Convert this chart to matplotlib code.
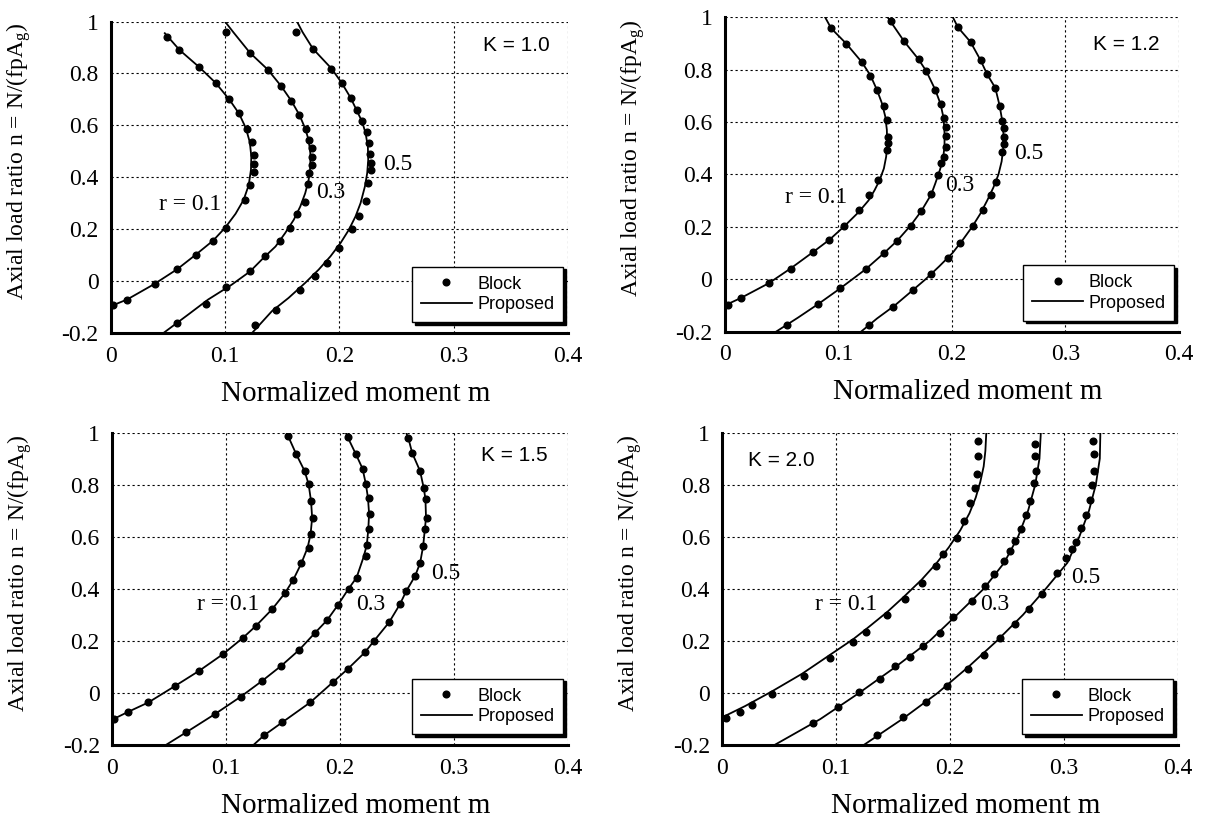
import matplotlib
matplotlib.use('Agg')
import matplotlib.pyplot as plt
import numpy as np

plt.rcParams['mathtext.fontset'] = 'custom'
plt.rcParams['mathtext.rm'] = 'Liberation Serif'
plt.rcParams['mathtext.it'] = 'Liberation Serif:italic'

# ---- K = 1.0 ----  (m, n) pairs
k10_block_r01 = [(0.049, 0.940), (0.0595, 0.892), (0.077, 0.825), (0.0915, 0.764), (0.1035, 0.701),
                 (0.112, 0.646), (0.119, 0.588), (0.123, 0.537), (0.125, 0.486), (0.125, 0.450),
                 (0.125, 0.422), (0.122, 0.371), (0.117, 0.313), (0.1006, 0.207), (0.0894, 0.157),
                 (0.074, 0.102), (0.058, 0.047), (0.038, -0.010), (0.014, -0.070), (0.0015, -0.093)]
k10_block_r03 = [(0.1006, 0.959), (0.1217, 0.879), (0.1372, 0.815), (0.149, 0.751), (0.1578, 0.695),
                 (0.165, 0.640), (0.1707, 0.588), (0.1736, 0.544), (0.176, 0.512), (0.176, 0.480),
                 (0.176, 0.448), (0.1736, 0.416), (0.1724, 0.374), (0.1695, 0.307), (0.163, 0.258),
                 (0.157, 0.207), (0.148, 0.154), (0.135, 0.098), (0.1217, 0.038), (0.1006, -0.022),
                 (0.0827, -0.086), (0.0578, -0.160)]
k10_block_r05 = [(0.162, 0.959), (0.1768, 0.895), (0.193, 0.819), (0.2018, 0.765), (0.2097, 0.707),
                 (0.215, 0.659), (0.220, 0.618), (0.2238, 0.576), (0.2258, 0.533), (0.2264, 0.490),
                 (0.2273, 0.454), (0.2273, 0.429), (0.2252, 0.377), (0.2229, 0.310), (0.217, 0.252),
                 (0.211, 0.201), (0.1994, 0.128), (0.189, 0.070), (0.179, 0.022), (0.1657, -0.032),
                 (0.1446, -0.109), (0.126, -0.170)]
k10_line_r01 = [(0.047, 0.955), (0.060, 0.890), (0.077, 0.825), (0.0915, 0.764), (0.1035, 0.700),
                (0.112, 0.646), (0.118, 0.590), (0.1215, 0.535), (0.1228, 0.480), (0.1225, 0.430),
                (0.1205, 0.370), (0.116, 0.313), (0.109, 0.260), (0.1000, 0.207), (0.0894, 0.157),
                (0.074, 0.102), (0.058, 0.047), (0.038, -0.010), (0.014, -0.070), (0.0, -0.095)]
k10_line_r03 = [(0.0997, 1.0), (0.107, 0.959), (0.1217, 0.879), (0.1372, 0.815), (0.149, 0.751),
                (0.1578, 0.695), (0.165, 0.640), (0.170, 0.588), (0.173, 0.544), (0.1745, 0.493),
                (0.1745, 0.441), (0.173, 0.390), (0.170, 0.339), (0.1657, 0.288), (0.160, 0.237),
                (0.1525, 0.186), (0.144, 0.134), (0.1334, 0.090), (0.1217, 0.038), (0.1056, -0.013),
                (0.085, -0.070), (0.0675, -0.128), (0.0455, -0.2)]
k10_line_r05 = [(0.1628, 1.0), (0.1677, 0.959), (0.1768, 0.895), (0.193, 0.819), (0.2018, 0.765),
                (0.2097, 0.707), (0.215, 0.659), (0.2199, 0.614), (0.2229, 0.570), (0.2249, 0.518),
                (0.2252, 0.467), (0.2243, 0.416), (0.2223, 0.365), (0.2185, 0.301), (0.2141, 0.250),
                (0.2082, 0.198), (0.2009, 0.147), (0.1921, 0.096), (0.1818, 0.045), (0.170, -0.006),
                (0.1554, -0.064), (0.1408, -0.115), (0.1232, -0.2)]

# ---- K = 1.2 ----
k12_block_r01 = [(0.0937, 0.958), (0.107, 0.900), (0.1207, 0.829), (0.128, 0.778), (0.134, 0.724),
                 (0.140, 0.660), (0.143, 0.609), (0.144, 0.545), (0.1436, 0.519), (0.143, 0.494),
                 (0.1348, 0.378), (0.1266, 0.321), (0.1178, 0.265), (0.1054, 0.203), (0.0922, 0.151),
                 (0.078, 0.105), (0.0579, 0.041), (0.0388, -0.015), (0.0144, -0.071), (0.0032, -0.099)]
k12_block_r03 = [(0.1465, 0.987), (0.158, 0.908), (0.1706, 0.840), (0.1774, 0.795), (0.1853, 0.724),
                 (0.190, 0.669), (0.1927, 0.615), (0.1944, 0.583), (0.1944, 0.547), (0.1944, 0.506),
                 (0.1927, 0.468), (0.1906, 0.442), (0.1877, 0.397), (0.1818, 0.324), (0.173, 0.260),
                 (0.1636, 0.205), (0.1518, 0.147), (0.140, 0.099), (0.124, 0.038), (0.1016, -0.035),
                 (0.0825, -0.094), (0.0549, -0.173)]
k12_block_r05 = [(0.2053, 0.962), (0.2164, 0.906), (0.2253, 0.836), (0.2311, 0.782), (0.2382, 0.731),
                 (0.242, 0.663), (0.2443, 0.606), (0.2458, 0.577), (0.2458, 0.545), (0.2455, 0.515),
                 (0.244, 0.487), (0.239, 0.372), (0.2347, 0.321), (0.2273, 0.263), (0.2185, 0.203),
                 (0.2068, 0.137), (0.1965, 0.083), (0.1818, 0.019), (0.1656, -0.042), (0.148, -0.106),
                 (0.1269, -0.173)]
k12_line_r01 = [(0.0884, 1.0), (0.0937, 0.958), (0.1069, 0.900), (0.1207, 0.829), (0.1283, 0.778),
                (0.1339, 0.724), (0.1383, 0.673), (0.1413, 0.622), (0.1427, 0.571), (0.143, 0.519),
                (0.1421, 0.468), (0.1401, 0.423), (0.1363, 0.378), (0.1319, 0.340), (0.1266, 0.301),
                (0.1178, 0.256), (0.1054, 0.203), (0.0922, 0.151), (0.0781, 0.105), (0.0579, 0.041),
                (0.0388, -0.015), (0.0144, -0.071), (0.0, -0.100)]
k12_line_r03 = [(0.1435, 1.0), (0.158, 0.908), (0.1706, 0.840), (0.1774, 0.795), (0.1853, 0.724),
                (0.190, 0.669), (0.1927, 0.615), (0.1935, 0.558), (0.1935, 0.506), (0.192, 0.455),
                (0.1894, 0.417), (0.1853, 0.365), (0.1818, 0.324), (0.173, 0.260), (0.1636, 0.205),
                (0.1518, 0.147), (0.140, 0.099), (0.124, 0.038), (0.1016, -0.035), (0.0825, -0.094),
                (0.0643, -0.147), (0.0452, -0.2)]
k12_line_r05 = [(0.2009, 1.0), (0.2053, 0.962), (0.2164, 0.906), (0.2253, 0.836), (0.2311, 0.782),
                (0.2382, 0.731), (0.242, 0.663), (0.2443, 0.606), (0.2455, 0.550), (0.2452, 0.500),
                (0.2438, 0.450), (0.241, 0.400), (0.2365, 0.350), (0.231, 0.300), (0.225, 0.250),
                (0.2178, 0.200), (0.2095, 0.150), (0.2005, 0.100), (0.189, 0.050), (0.1768, 0.0),
                (0.1633, -0.050), (0.1497, -0.100), (0.134, -0.150), (0.120, -0.2)]

# ---- K = 1.5 ----
k15_block_r01 = [(0.1544, 0.986), (0.1616, 0.916), (0.1689, 0.852), (0.1724, 0.801), (0.1741, 0.737),
                 (0.1762, 0.673), (0.1741, 0.609), (0.1724, 0.558), (0.166, 0.498), (0.1587, 0.433),
                 (0.1515, 0.383), (0.1404, 0.322), (0.1262, 0.258), (0.1145, 0.211), (0.0971, 0.149),
                 (0.0765, 0.086), (0.0547, 0.026), (0.0317, -0.036), (0.014, -0.072), (0.0017, -0.100)]
k15_block_r03 = [(0.2067, 0.982), (0.214, 0.916), (0.2198, 0.861), (0.2227, 0.801), (0.2256, 0.750),
                 (0.2262, 0.688), (0.2256, 0.628), (0.2241, 0.568), (0.2227, 0.526), (0.2145, 0.443),
                 (0.2076, 0.401), (0.198, 0.337), (0.1887, 0.280), (0.1776, 0.229), (0.164, 0.165),
                 (0.1485, 0.105), (0.1317, 0.047), (0.1128, -0.014), (0.0904, -0.080), (0.0648, -0.151)]
k15_block_r05 = [(0.260, 0.978), (0.2634, 0.921), (0.2703, 0.852), (0.2738, 0.787), (0.2756, 0.745),
                 (0.2765, 0.672), (0.2747, 0.630), (0.273, 0.564), (0.2703, 0.499), (0.266, 0.450),
                 (0.2580, 0.390), (0.2525, 0.340), (0.243, 0.271), (0.230, 0.201), (0.2218, 0.156),
                 (0.2067, 0.092), (0.1936, 0.041), (0.1738, -0.036), (0.1494, -0.112), (0.1331, -0.163)]
k15_line_r01 = [(0.153, 1.0), (0.1544, 0.986), (0.1616, 0.916), (0.1689, 0.852), (0.1724, 0.801),
                (0.1745, 0.737), (0.1755, 0.673), (0.1741, 0.609), (0.1715, 0.558), (0.166, 0.498),
                (0.1587, 0.433), (0.1515, 0.383), (0.1404, 0.322), (0.1262, 0.258), (0.1145, 0.211),
                (0.0971, 0.149), (0.0765, 0.086), (0.0547, 0.026), (0.0317, -0.036), (0.014, -0.072),
                (0.0, -0.102)]
k15_line_r03 = [(0.205, 1.0), (0.2067, 0.982), (0.214, 0.916), (0.2198, 0.861), (0.2227, 0.801),
                (0.2245, 0.750), (0.2255, 0.688), (0.2248, 0.628), (0.2235, 0.568), (0.2205, 0.520),
                (0.2145, 0.443), (0.2076, 0.401), (0.198, 0.337), (0.1887, 0.280), (0.1776, 0.229),
                (0.164, 0.165), (0.1485, 0.105), (0.1317, 0.047), (0.1128, -0.014), (0.0904, -0.080),
                (0.0648, -0.151), (0.0468, -0.2)]
k15_line_r05 = [(0.258, 1.0), (0.260, 0.978), (0.2634, 0.921), (0.2703, 0.852), (0.2735, 0.787),
                (0.275, 0.745), (0.2755, 0.672), (0.2745, 0.630), (0.273, 0.564), (0.2703, 0.499),
                (0.266, 0.450), (0.258, 0.390), (0.2525, 0.340), (0.243, 0.271), (0.230, 0.201),
                (0.2218, 0.156), (0.2067, 0.092), (0.1936, 0.041), (0.1738, -0.036), (0.1494, -0.112),
                (0.1331, -0.163), (0.1238, -0.2)]

# ---- K = 2.0 ----
k20_block_r01 = [(0.2244, 0.969), (0.2244, 0.909), (0.2235, 0.839), (0.222, 0.788), (0.2176, 0.731),
                 (0.2124, 0.660), (0.2059, 0.594), (0.1941, 0.533), (0.1876, 0.488), (0.175, 0.424),
                 (0.1603, 0.360), (0.1447, 0.300), (0.1265, 0.236), (0.1147, 0.194), (0.0941, 0.134),
                 (0.072, 0.066), (0.0435, -0.004), (0.0259, -0.046), (0.0153, -0.072), (0.003, -0.097)]
k20_block_r03 = [(0.275, 0.957), (0.275, 0.909), (0.2756, 0.854), (0.2735, 0.805), (0.270, 0.739),
                 (0.267, 0.682), (0.2624, 0.631), (0.2574, 0.584), (0.2524, 0.545), (0.247, 0.507),
                 (0.2388, 0.458), (0.2309, 0.409), (0.219, 0.354), (0.2024, 0.290), (0.191, 0.232),
                 (0.1765, 0.181), (0.1647, 0.140), (0.1515, 0.105), (0.138, 0.054), (0.1197, 0.003),
                 (0.1015, -0.052), (0.0794, -0.115)]
k20_block_r05 = [(0.3259, 0.969), (0.3265, 0.916), (0.3265, 0.854), (0.325, 0.798), (0.3229, 0.741),
                 (0.3191, 0.683), (0.3147, 0.632), (0.3103, 0.581), (0.3074, 0.552), (0.3015, 0.520),
                 (0.2935, 0.460), (0.2809, 0.382), (0.2691, 0.322), (0.2574, 0.264), (0.2435, 0.213),
                 (0.230, 0.146), (0.216, 0.092), (0.197, 0.026), (0.1788, -0.036), (0.1588, -0.093),
                 (0.1362, -0.163)]
k20_line_r01 = [(0.0, -0.093), (0.020, -0.050), (0.043, 0.005), (0.070, 0.074), (0.094, 0.145),
                (0.115, 0.207), (0.127, 0.248), (0.145, 0.312), (0.160, 0.372), (0.175, 0.435),
                (0.188, 0.498), (0.199, 0.560), (0.209, 0.625), (0.217, 0.690), (0.2225, 0.750),
                (0.2265, 0.810), (0.2295, 0.870), (0.231, 0.930), (0.2318, 1.0)]
k20_line_r03 = [(0.2797, 1.0), (0.2785, 0.9), (0.2748, 0.8), (0.2685, 0.7), (0.2597, 0.6),
                (0.2475, 0.5), (0.2295, 0.4), (0.206, 0.3), (0.182, 0.2), (0.152, 0.1),
                (0.120, 0.0), (0.086, -0.1), (0.0456, -0.2)]
k20_line_r05 = [(0.332, 1.0), (0.3315, 0.9), (0.328, 0.8), (0.322, 0.7), (0.3135, 0.6),
                (0.303, 0.5), (0.284, 0.4), (0.264, 0.3), (0.241, 0.2), (0.216, 0.1),
                (0.189, 0.0), (0.158, -0.1), (0.124, -0.2)]

x_ticks = [0, 0.1, 0.2, 0.3, 0.4]
x_ticklabels = ['0', '0.1', '0.2', '0.3', '0.4']
y_ticks = [-0.2, 0, 0.2, 0.4, 0.6, 0.8, 1.0]
y_ticklabels = ['-0.2', '0', '0.2', '0.4', '0.6', '0.8', '1']

serif = 'Liberation Serif'
sans = 'Liberation Sans'


def draw(ax, blocks, lines, ktext, kpos, rlabels):
    for i, b in enumerate(blocks):
        b = np.array(b)
        ax.plot(b[:, 0], b[:, 1], 'o', color='k', ms=4.8, ls='none',
                label='Block' if i == 0 else None, zorder=4)
    for i, l in enumerate(lines):
        l = np.array(l)
        ax.plot(l[:, 0], l[:, 1], '-', color='k', lw=1.3,
                label='Proposed' if i == 0 else None, zorder=3)
    ax.set_xlim(0, 0.4)
    ax.set_ylim(-0.2, 1.0)
    ax.set_xticks(x_ticks)
    ax.set_xticklabels(x_ticklabels, family=serif, fontsize=17)
    ax.set_yticks(y_ticks)
    ax.set_yticklabels(y_ticklabels, family=serif, fontsize=17)
    ax.tick_params(length=0, pad=9)
    ax.grid(True, color='k', ls=(0, (2, 2.5)), lw=0.8)
    for s in ['top', 'right']:
        ax.spines[s].set_visible(False)
    for s in ['left', 'bottom']:
        ax.spines[s].set_linewidth(2.2)
    ax.set_xlabel('Normalized moment m', family=serif, fontsize=21)
    ax.xaxis.set_label_coords(0.535, -0.152)
    ax.set_ylabel(r'Axial load ratio n = N/(fpA$_{\mathrm{g}}$)', family=serif, fontsize=17)
    ax.yaxis.set_label_coords(-0.172, 0.55)
    ax.text(kpos[0], kpos[1], ktext, transform=ax.transAxes, family=sans, fontsize=15,
            ha='center', va='center')
    for txt, x, y in rlabels:
        ax.text(x, y, txt, family=serif, fontsize=17, ha='left', va='center', zorder=5)
    leg = ax.legend(loc='lower right', bbox_to_anchor=(0.99, 0.035), prop={'family': sans, 'size': 13},
                    frameon=True, fancybox=False, shadow={'color': 'black', 'alpha': 1},
                    handlelength=2.8, handletextpad=0.3, borderpad=0.5, labelspacing=0.2,
                    borderaxespad=0)
    leg.get_frame().set_edgecolor('k')
    leg.get_frame().set_linewidth(1.0)
    leg.get_frame().set_alpha(1)


fig = plt.figure(figsize=(12.08, 8.27), dpi=100)
ax1 = fig.add_axes([0.092, 0.597, 0.378, 0.377])
ax2 = fig.add_axes([0.600, 0.599, 0.376, 0.380])
ax3 = fig.add_axes([0.093, 0.099, 0.377, 0.378])
ax4 = fig.add_axes([0.598, 0.099, 0.377, 0.378])

draw(ax1, [k10_block_r01, k10_block_r03, k10_block_r05], [k10_line_r01, k10_line_r03, k10_line_r05],
     'K = 1.0', (0.888, 0.923), [('r = 0.1', 0.042, 0.294), ('0.3', 0.180, 0.342), ('0.5', 0.238, 0.448)])
draw(ax2, [k12_block_r01, k12_block_r03, k12_block_r05], [k12_line_r01, k12_line_r03, k12_line_r05],
     'K = 1.2', (0.883, 0.914), [('r = 0.1', 0.053, 0.314), ('0.3', 0.194, 0.359), ('0.5', 0.255, 0.48)])
draw(ax3, [k15_block_r01, k15_block_r03, k15_block_r05], [k15_line_r01, k15_line_r03, k15_line_r05],
     'K = 1.5', (0.882, 0.927), [('r = 0.1', 0.074, 0.341), ('0.3', 0.214, 0.341), ('0.5', 0.28, 0.46)])
draw(ax4, [k20_block_r01, k20_block_r03, k20_block_r05], [k20_line_r01, k20_line_r03, k20_line_r05],
     'K = 2.0', (0.13, 0.91), [('r = 0.1', 0.081, 0.341), ('0.3', 0.2265, 0.341), ('0.5', 0.306, 0.443)])

fig.savefig('out.png', dpi=100)
